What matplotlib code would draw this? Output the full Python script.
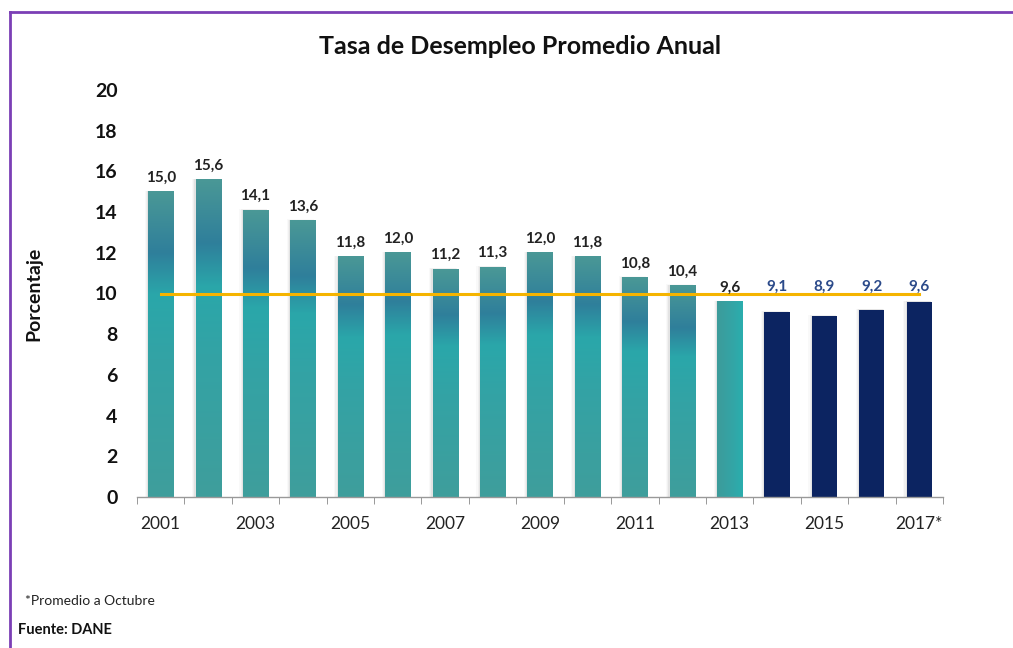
import matplotlib
matplotlib.use("Agg")
import matplotlib.pyplot as plt
import numpy as np
from matplotlib.colors import LinearSegmentedColormap
from matplotlib.lines import Line2D

plt.rcParams['font.family'] = ['Lato', 'DejaVu Sans']

years = ["2001", "2002", "2003", "2004", "2005", "2006", "2007", "2008", "2009",
         "2010", "2011", "2012", "2013", "2014", "2015", "2016", "2017*"]
values = [15.0, 15.6, 14.1, 13.6, 11.8, 12.0, 11.2, 11.3, 12.0, 11.8, 10.8, 10.4,
          9.6, 9.1, 8.9, 9.2, 9.6]
reference_level = 10
n_teal = 13  # 2001-2013 teal gradient, rest navy
shown_labels = ["2001", "", "2003", "", "2005", "", "2007", "", "2009", "", "2011",
                "", "2013", "", "2015", "", "2017*"]

fig = plt.figure(figsize=(10.13, 6.48), dpi=100)
ax = fig.add_axes([137/1013, 1 - 497/648, (943-137)/1013, (497-90)/648])

x = np.arange(len(years))
width = 0.53
navy = "#0c2461"
bars = ax.bar(x, values, width=width, color="none", edgecolor="none", zorder=2)

grad_v = LinearSegmentedColormap.from_list("g", [
    (0.0, "#3f9e9c"), (0.45, "#33a3a5"), (0.66, "#2aa7aa"),
    (0.80, "#2f7f9b"), (1.0, "#4a9896")])
grad_h = LinearSegmentedColormap.from_list("h", [
    (0.0, "#3d9b9a"), (0.5, "#35a3a4"), (1.0, "#2aaeae")])

for i, (b, v) in enumerate(zip(bars, values)):
    x0 = b.get_x(); w = b.get_width(); h = b.get_height()
    # soft shadow
    for k, a in enumerate([0.10, 0.07, 0.04]):
        d = 0.025 * (k + 1)
        ax.add_patch(plt.Rectangle((x0 - d, 0), w + 2 * d * 0.3, h + d * 0.6,
                                   color="#777777", alpha=a, lw=0, zorder=1.5))
    if i < n_teal - 1:
        img = np.linspace(0, 1, 256).reshape(-1, 1)
        ax.imshow(img, cmap=grad_v, origin="lower", aspect="auto",
                  extent=(x0, x0 + w, 0, h), zorder=2)
    elif i == n_teal - 1:
        img = np.linspace(0, 1, 256).reshape(1, -1)
        ax.imshow(img, cmap=grad_h, origin="lower", aspect="auto",
                  extent=(x0, x0 + w, 0, h), zorder=2)
    else:
        ax.add_patch(plt.Rectangle((x0, 0), w, h, color=navy, lw=0, zorder=2))

ax.plot(x, [reference_level] * len(x), color="#f5b400", lw=2.2, zorder=3)

for i, v in enumerate(values):
    lab = f"{v:.1f}".replace(".", ",")
    if i < n_teal:
        ax.text(i, v + 0.68, lab, ha="center", va="center", fontsize=11,
                fontweight="bold", color="#222222", zorder=4)
    else:
        ax.text(i, max(v + 0.68, 10.32), lab, ha="center", va="center",
                fontsize=11, fontweight="bold", color="#2b4a8a", zorder=4)

ax.set_xlim(-0.5, len(years) - 0.5)
ax.set_ylim(0, 20)
ax.set_yticks(range(0, 21, 2))
ax.set_yticklabels([str(t) for t in range(0, 21, 2)], fontsize=14,
                   fontweight="bold", color="#111111")
ax.set_xticks(x)
ax.set_xticklabels(shown_labels, fontsize=12.5, color="#222222")
ax.set_xticks(np.arange(-0.5, len(years), 1), minor=True)
ax.tick_params(axis="x", which="major", length=0, pad=14)
ax.tick_params(axis="x", which="minor", length=5, color="#888888", direction="out")
ax.tick_params(axis="y", length=0, pad=14)
for s in ["top", "right", "left"]:
    ax.spines[s].set_visible(False)
ax.spines["bottom"].set_color("#999999")
ax.spines["bottom"].set_linewidth(1)

ax.set_ylabel("Porcentaje", fontsize=14, fontweight="bold", color="#111111")
ax.yaxis.set_label_coords(-0.117, 0.5)

fig.text(520/1013, 1 - 47/648, "Tasa de Desempleo Promedio Anual", ha="center",
         va="center", fontsize=18, fontweight="bold", color="#111111")
fig.text(25/1013, 1 - 601/648, "*Promedio a Octubre", ha="left", va="center",
         fontsize=10, color="#222222")
fig.text(18/1013, 1 - 630/648, "Fuente: DANE", ha="left", va="center",
         fontsize=10.5, fontweight="bold", color="#111111")

# purple frame (top and left)
fig.add_artist(Line2D([10/1013, 1.0], [1 - 12/648, 1 - 12/648],
                      transform=fig.transFigure, color="#7b3fb5", lw=2))
fig.add_artist(Line2D([10/1013, 10/1013], [0, 1 - 12/648],
                      transform=fig.transFigure, color="#7b3fb5", lw=2))

fig.savefig("out.png", dpi=100)
